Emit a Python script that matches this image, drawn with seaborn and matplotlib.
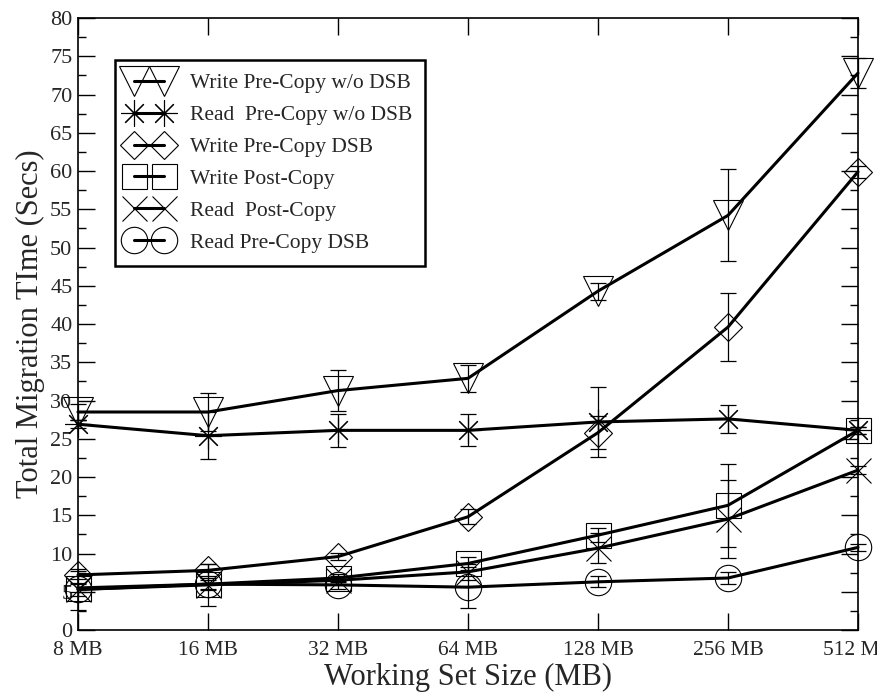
import matplotlib.pyplot as plt
import numpy as np
import seaborn as sns
from matplotlib.ticker import MultipleLocator

# x categories (working set size)
sizes = ["8 MB", "16 MB", "32 MB", "64 MB", "128 MB", "256 MB", "512 MB"]

# migration time (secs) and error bar half-heights
write_pre_nodsb = [28.5, 28.5, 31.3, 32.9, 44.3, 54.2, 72.8]
write_pre_nodsb_err = [1.0, 2.5, 2.7, 1.8, 1.1, 6.0, 2.0]

read_pre_nodsb = [26.9, 25.4, 26.1, 26.1, 27.2, 27.6, 26.1]
read_pre_nodsb_err = [0.5, 3.1, 2.2, 2.1, 4.6, 1.8, 0.5]

write_pre_dsb = [7.2, 7.8, 9.6, 14.8, 25.8, 39.6, 59.9]
write_pre_dsb_err = [0.5, 0.8, 0.5, 1.0, 2.2, 4.4, 0.8]

write_post = [5.5, 6.0, 6.8, 8.7, 12.4, 16.3, 26.1]
write_post_err = [0.5, 0.8, 0.5, 0.8, 0.9, 5.4, 0.5]

read_post = [5.3, 5.9, 6.5, 7.6, 10.7, 14.5, 20.9]
read_post_err = [0.8, 2.7, 0.5, 1.0, 2.0, 5.1, 0.5]

read_pre_dsb = [5.3, 6.0, 5.9, 5.6, 6.3, 6.8, 10.8]
read_pre_dsb_err = [2.7, 0.6, 0.5, 2.7, 0.7, 0.8, 0.5]

series = [
    ("Write Pre-Copy w/o DSB", write_pre_nodsb, write_pre_nodsb_err, "v", 21),
    ("Read  Pre-Copy w/o DSB", read_pre_nodsb, read_pre_nodsb_err, (8, 2, 0), 19),
    ("Write Pre-Copy DSB", write_pre_dsb, write_pre_dsb_err, "D", 14),
    ("Write Post-Copy", write_post, write_post_err, "s", 18),
    ("Read  Post-Copy", read_post, read_post_err, "x", 18),
    ("Read Pre-Copy DSB", read_pre_dsb, read_pre_dsb_err, "o", 19),
]

sns.set_style("ticks")
plt.rcParams["font.family"] = ["Liberation Serif", "DejaVu Serif"]

fig = plt.figure(figsize=(8.77, 6.96), dpi=100)
ax = fig.add_axes([0.0889, 0.0948, 0.8894, 0.8793])

pos = np.arange(len(sizes))
handles = []
for label, vals, err, mk, ms in series:
    sns.lineplot(x=pos, y=vals, ax=ax, color="black", linewidth=2.2,
                 marker=mk, markersize=ms, markerfacecolor="none",
                 markeredgecolor="black", markeredgewidth=0.8,
                 errorbar=None, label=label, clip_on=False, zorder=3)
    handles.append(ax.lines[-1])
    ax.errorbar(pos, vals, yerr=err, fmt="none", ecolor="black",
                elinewidth=0.9, capsize=6, capthick=0.9, clip_on=False,
                zorder=3)

ax.set_xlim(0, 6)
ax.set_ylim(0, 80)
ax.set_xticks(pos)
ax.set_xticklabels(sizes, fontsize=15.5)
ax.yaxis.set_major_locator(MultipleLocator(5))
ax.yaxis.set_minor_locator(MultipleLocator(2.5))
ax.tick_params(axis="y", labelsize=16)
ax.tick_params(which="major", direction="in", top=True, right=True,
               length=12, width=1, color="black", pad=4)
ax.tick_params(axis="x", pad=8)
ax.tick_params(which="minor", direction="in", right=True, length=6,
               width=1, color="black")
for sp in ax.spines.values():
    sp.set_linewidth(1.2)
    sp.set_color("black")

ax.set_xlabel("Working Set Size (MB)", fontsize=22, labelpad=2)
ax.set_ylabel("Total Migration TIme (Secs)", fontsize=22, labelpad=4)

leg = ax.legend(handles=handles, labels=[s[0] for s in series],
                loc="upper left", bbox_to_anchor=(0.047, 0.931),
                borderaxespad=0, numpoints=2, handlelength=2.0,
                handletextpad=0.9, borderpad=0.6, labelspacing=0.55,
                fontsize=15.5, fancybox=False, framealpha=1,
                edgecolor="black")
leg.get_frame().set_linewidth(1.8)

fig.savefig("out.png", dpi=100)
